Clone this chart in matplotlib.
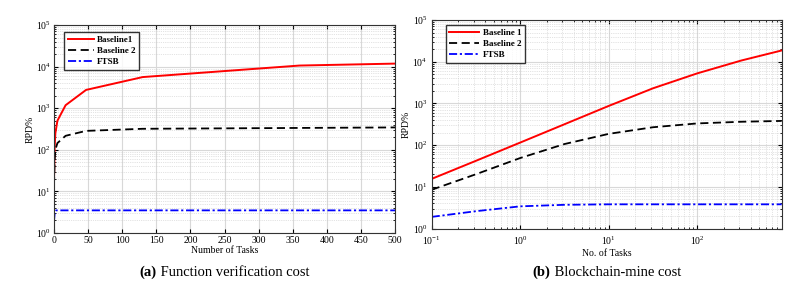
import matplotlib
matplotlib.use("Agg")
import matplotlib.pyplot as plt
from matplotlib.ticker import LogLocator, FixedLocator, NullFormatter

plt.rcParams['font.family'] = ['Liberation Serif']
plt.rcParams['mathtext.fontset'] = 'cm'

# Panel (a): Function verification cost
a_tasks_b1 = [0, 1, 2, 5, 17, 47, 130, 360, 500]
a_b1 = [19, 120, 250, 500, 1180, 2750, 5600, 10600, 11800]
a_tasks_b2 = [0, 1, 2, 5, 17, 47, 130, 500]
a_b2 = [14, 60, 100, 145, 217, 285, 320, 345]
a_tasks_f = [0, 1, 3, 500]
a_ftsb = [1.9, 3.0, 3.5, 3.5]

# Panel (b): Blockchain-mine cost
b_tasks = [0.1, 0.316, 1, 3.16, 10, 31.6, 100, 316, 900]
b_b1 = [15.5, 42, 115, 316, 870, 2300, 5250, 10700, 18600]
b_b2 = [8.5, 20, 49, 106, 186, 268, 331, 363, 380]
b_ftsb = [1.9, 2.6, 3.4, 3.7, 3.8, 3.8, 3.8, 3.8, 3.8]

labels_a = ['Baseline1', 'Baseline 2', 'FTSB']
labels_b = ['Baseline 1', 'Baseline 2', 'FTSB']
captions = [('(a)', 'Function verification cost'), ('(b)', 'Blockchain-mine cost')]

fig = plt.figure(figsize=(8.1, 2.84), dpi=100)
W, H = 810, 284
axa = fig.add_axes([54/W, 1-233/H, (395-54)/W, (233-25)/H])
axb = fig.add_axes([431.7/W, 1-228.5/H, (781.7-431.7)/W, (228.5-20)/H])

DASH = (0, (4.5, 2.5))
DASHDOT = (0, (4.5, 1.5, 1.2, 1.5))

def style(ax):
    ax.set_yscale('log')
    ax.set_ylim(1, 1e5)
    ax.yaxis.set_major_locator(FixedLocator([1, 10, 100, 1e3, 1e4, 1e5]))
    ax.yaxis.set_minor_locator(LogLocator(base=10, subs=range(2, 10), numticks=20))
    ax.yaxis.set_minor_formatter(NullFormatter())
    ax.grid(True, which='major', color='#d8d8d8', lw=0.8, ls='-')
    ax.grid(True, which='minor', axis='y', color='#c8c8c8', lw=0.5, ls=':')
    ax.tick_params(which='both', direction='in', top=True, right=True, labelsize=7, pad=2)
    ax.tick_params(which='major', length=3)
    ax.tick_params(which='minor', length=1.5)
    for s in ax.spines.values():
        s.set_linewidth(0.8)
        s.set_color('#333333')
    ax.set_axisbelow(True)
    ax.set_ylabel('RPD%', fontsize=7, labelpad=1)

def legend(ax, handles, labels, anchor, hl):
    ax.legend(handles, labels, loc='upper left', bbox_to_anchor=anchor,
              frameon=True, fancybox=False, edgecolor='black',
              handlelength=hl, borderpad=0.4, labelspacing=0.3, handletextpad=0.4,
              borderaxespad=0,
              prop={'weight': 'bold', 'size': 6.5, 'family': 'Liberation Serif'})

# Panel a
l1, = axa.plot(a_tasks_b1, a_b1, color='red', lw=1.4, ls='-')
l2, = axa.plot(a_tasks_b2, a_b2, color='black', lw=1.3, ls=DASH)
l3, = axa.plot(a_tasks_f, a_ftsb, color='blue', lw=1.3, ls=DASHDOT)
style(axa)
axa.set_xlim(0, 500)
axa.xaxis.set_major_locator(FixedLocator(list(range(0, 501, 50))))
axa.set_xlabel('Number of Tasks', fontsize=7, labelpad=1)
legend(axa, [l1, l2, l3], labels_a, (0.029, 0.966), 2.9)

# Panel b
m1, = axb.plot(b_tasks, b_b1, color='red', lw=1.4, ls='-')
m2, = axb.plot(b_tasks, b_b2, color='black', lw=1.3, ls=DASH)
m3, = axb.plot(b_tasks, b_ftsb, color='blue', lw=1.3, ls=DASHDOT)
style(axb)
axb.set_xscale('log')
axb.set_xlim(0.1, 900)
axb.xaxis.set_major_locator(FixedLocator([0.1, 1, 10, 100]))
axb.xaxis.set_minor_locator(LogLocator(base=10, subs=range(2, 10), numticks=20))
axb.xaxis.set_minor_formatter(NullFormatter())
axb.grid(True, which='minor', axis='x', color='#c8c8c8', lw=0.5, ls=':')
axb.tick_params(axis='x', pad=4.5)
axb.tick_params(axis='y', pad=3)
axb.set_xlabel('No. of Tasks', fontsize=7, labelpad=1)
legend(axb, [m1, m2, m3], labels_b, (0.04, 0.976), 3.3)

# Captions: bold tag followed by regular text, centered as a whole
fig.canvas.draw()
renderer = fig.canvas.get_renderer()
for ax, (tag, text) in zip([axa, axb], captions):
    pos = ax.get_position()
    cx = (pos.x0 + pos.x1) / 2 * W
    y = 1 - 272 / H
    t1 = fig.text(0, y, tag, fontsize=10.5, weight='bold', ha='left', va='center')
    t2 = fig.text(0, y, ' ' + text, fontsize=10.5, ha='left', va='center')
    w1 = t1.get_window_extent(renderer).width
    w2 = t2.get_window_extent(renderer).width
    x0 = cx - (w1 + w2) / 2
    t1.set_x(x0 / W)
    t2.set_x((x0 + w1) / W)

fig.savefig('out.png', dpi=100)
